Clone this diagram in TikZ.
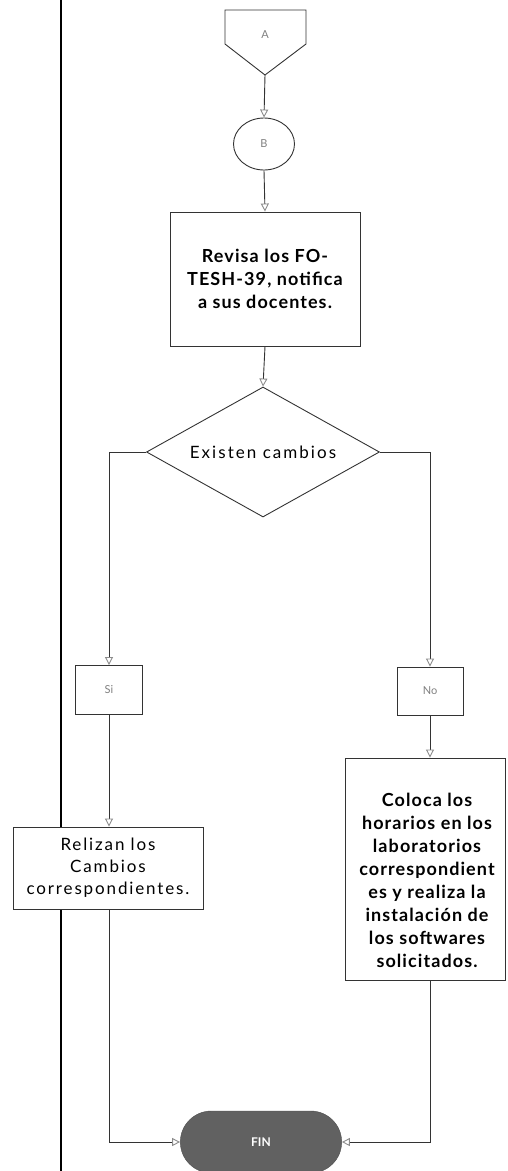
\documentclass[tikz,border=0pt]{standalone}
\usepackage{fontspec}
\setmainfont{Lato}
\usetikzlibrary{shapes.geometric,shapes.misc,arrows.meta}
\begin{document}
\begin{tikzpicture}[x=1pt,y=-1pt,
  line/.style={draw=black!80, line width=0.9pt},
  arr/.style={line, -{Triangle[open,length=8pt,width=8pt,color=black!45,line width=0.9pt]}},
  boxn/.style={draw=black!80, line width=0.9pt, fill=white, inner sep=0pt, align=center},
  btxt/.style={font=\fontsize{18}{23}\selectfont\addfontfeatures{LetterSpace=6}\bfseries},
  rtxt/.style={font=\fontsize{17}{22}\selectfont\addfontfeatures{LetterSpace=11}},
  small/.style={font=\fontsize{11}{13}\selectfont, text=black!50}
]
\useasboundingbox (0,0) rectangle (507,1171);
% lane line
\draw[line width=1.5pt, black] (61,0) -- (61,1171);
% off-page connector A
\draw[line] (225,10) -- (306,10) -- (306,44) -- (265,75) -- (225,44) -- cycle;
\node[small] (A) at (265,35) {A};
\coordinate (Ap) at (265,75);
% connector B
\node[draw=black!80, line width=0.9pt, ellipse, minimum width=61pt, minimum height=52pt, inner sep=0pt, small] (B) at (264,144) {B};
% process box
\node[boxn, btxt, minimum width=190pt, minimum height=134pt] (rev) at (265,279)
  {Revisa los FO-\\TESH-39, notifica\\a sus docentes.};
% decision
\node[draw=black!80, line width=0.9pt, diamond, aspect=1.79, minimum width=233pt, minimum height=130pt, inner sep=0pt,
  font=\fontsize{17}{20}\selectfont\addfontfeatures{LetterSpace=12}] (dec) at (263,452) {Existen cambios};
% Si / No boxes
\node[boxn, small, minimum width=67pt, minimum height=49pt] (si) at (109,690) {Si};
\node[boxn, small, minimum width=66pt, minimum height=48pt] (no) at (430,691) {No};
% action boxes
\node[boxn, rtxt, minimum width=190pt, minimum height=82pt] (rel) at (108,868)
  {Relizan los\\Cambios\\correspondientes.};
\node[boxn, minimum width=160pt, minimum height=222pt] (col) at (425,869) {};
\node[btxt, align=center, inner sep=0pt] (colt) at (427,880)
  {Coloca los\\horarios en los\\laboratorios\\correspondient\\es y realiza la\\instalación de\\los softwares\\solicitados.};
% end
\node[rounded rectangle, fill=black!62, draw=black!70, minimum width=168pt, minimum height=62pt,
  font=\fontsize{12}{14}\selectfont\bfseries, text=white] (fin) at (261,1142) {FIN};
% connectors
\draw[arr] (Ap) -- (B.north);
\draw[arr] (B.south) -- (rev.north);
\draw[arr] (rev.south) -- (dec.north);
\draw[arr] (dec.west) -| (si.north);
\draw[arr] (dec.east) -| (no.north);
\draw[arr] (si.south) -- (si.south |- rel.north);
\draw[arr] (no.south) -- (no.south |- col.north);
\draw[arr] (si.south |- rel.south) |- (fin.west);
\draw[arr] (no.south |- col.south) |- (fin.east);
\end{tikzpicture}
\end{document}
